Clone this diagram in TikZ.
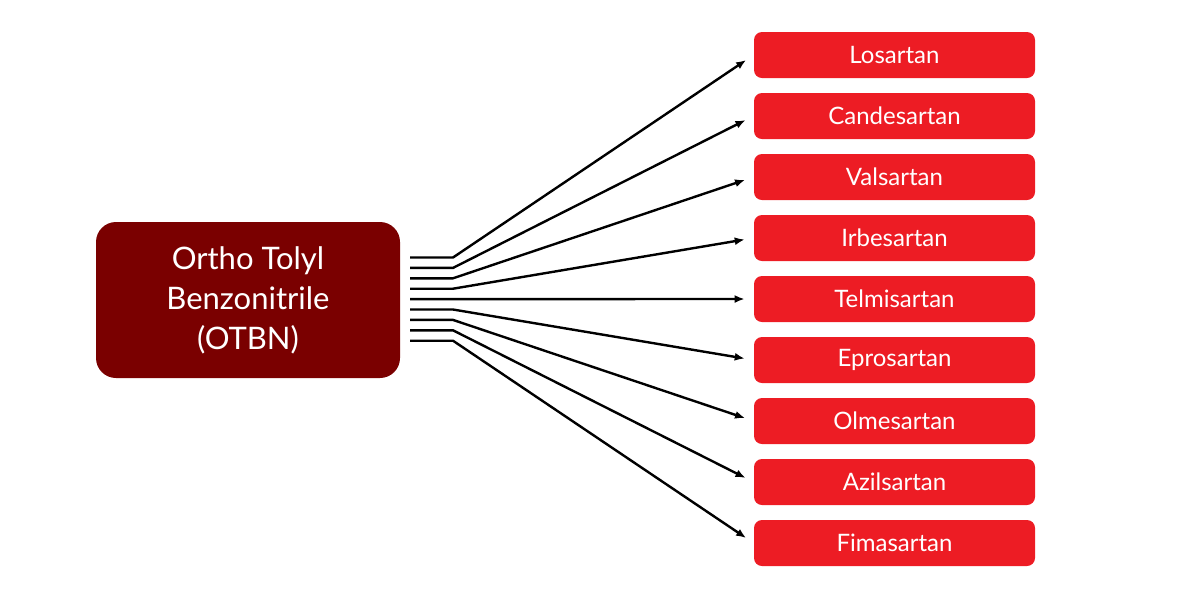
\documentclass[tikz,border=0pt]{standalone}
\usepackage{fontspec}
\setmainfont{Lato}
\usetikzlibrary{arrows.meta}
\definecolor{otbnred}{RGB}{122,0,0}
\definecolor{sartanred}{RGB}{237,28,36}
\begin{document}
\begin{tikzpicture}[x=0.5pt, y=-0.5pt,
	src/.style  = {rectangle, rounded corners=10pt, fill=otbnred, text=white, minimum width=152pt, minimum height=78pt, align=center, font=\fontsize{15.5}{20}\selectfont},
	drug/.style = {rectangle, rounded corners=4pt, fill=sartanred, text=white, minimum width=140.5pt, minimum height=23pt, inner sep=0pt, font=\fontsize{12}{14}\selectfont},
	r/.style    = {-{Latex[length=5pt, width=4pt]}, line width=1.2pt, shorten >=4.5pt}
	]
	\useasboundingbox (0, 0) rectangle (1177, 601);
	
	% ===== ===== ===== ===== =====
	
	% Nodes
	\node[src]	(otbn)	at	(248, 300)	{Ortho Tolyl\\Benzonitrile\\(OTBN)};
	
	\foreach \name [count=\i] in {Losartan, Candesartan, Valsartan, Irbesartan, Telmisartan, Eprosartan, Olmesartan, Azilsartan, Fimasartan}
	{
		\node[drug]	(d\i)	at	(894.5, {55+61*(\i-1)})	{\name};
	}
	
	% ===== ===== ===== ===== =====
	
	% Lines
	\foreach \i in {1,...,9}
	{
		\coordinate	(s\i)	at	(410, {257.5+10.4*(\i-1)});
		\coordinate	(b\i)	at	(453, {257.5+10.4*(\i-1)});
		\draw[r]	(s\i)	--	(b\i)	--	(d\i.west);
	}
	
\end{tikzpicture}
\end{document}
